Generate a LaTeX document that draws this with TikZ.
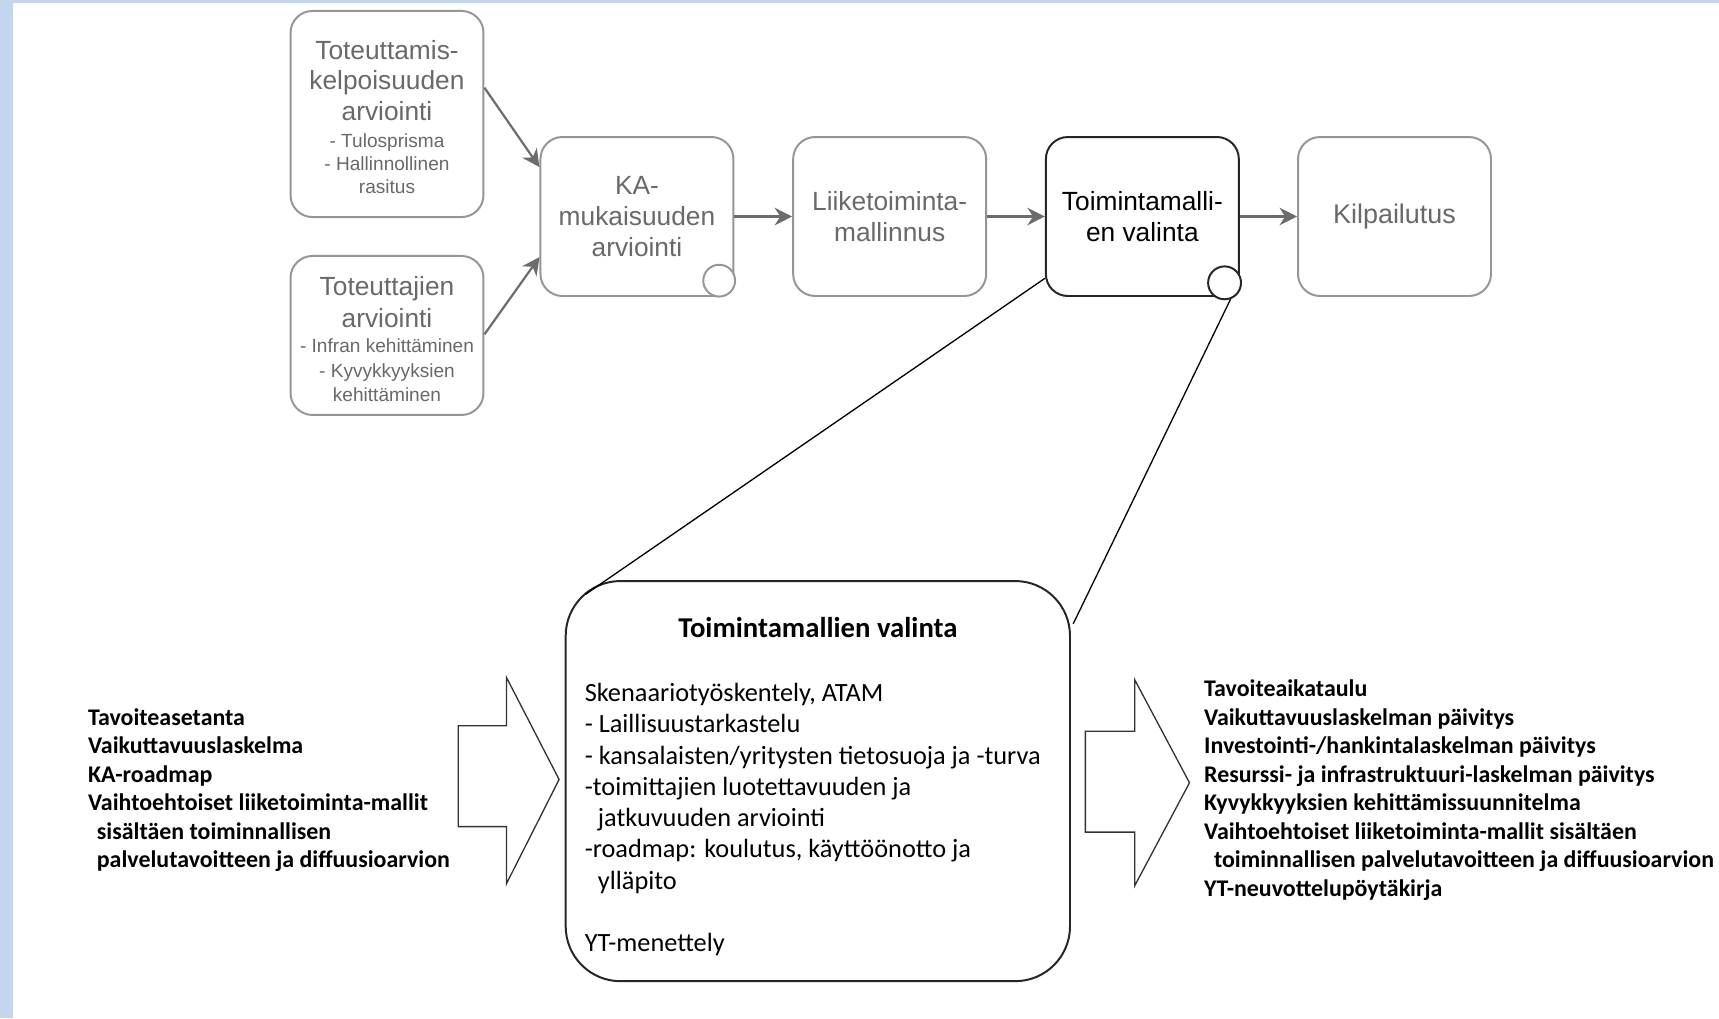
\documentclass[tikz,border=0pt]{standalone}
\usepackage{fontspec}
\setmainfont{Carlito}
\newfontfamily\arialfont{Liberation Sans}
\usetikzlibrary{positioning,arrows.meta,calc}
\definecolor{boxgray}{RGB}{150,150,150}
\definecolor{txtgray}{RGB}{105,105,105}
\definecolor{edgeblue}{RGB}{196,214,238}
\newcommand{\subtxt}{\fontsize{8.7}{10.5}\selectfont}

\begin{document}
\begin{tikzpicture}[x=0.5pt, y=-0.5pt,
  stage/.style={draw=boxgray, line width=0.9pt, rounded corners=10pt, minimum width=88pt, minimum height=72.5pt, inner sep=1pt, align=center, text=txtgray, font=\arialfont\fontsize{12}{14}\selectfont},
  active/.style={stage, draw=black!85, text=black},
  roll/.style={circle, draw=boxgray, line width=0.9pt, fill=white, inner sep=0pt, minimum size=14.5pt},
  flow/.style={draw=gray!85!black, line width=1pt, -{Stealth[length=8pt, width=8pt]}},
  zoomline/.style={draw=black, line width=0.6pt},
  fatarrow/.style={draw=black!80, line width=0.6pt, fill=white},
  bodytext/.style={align=left, inner sep=0pt, anchor=north west, font=\fontsize{12}{14.25}\selectfont},
  listtext/.style={align=left, inner sep=0pt, anchor=north west, font=\bfseries\fontsize{10.9}{13}\selectfont}]
\useasboundingbox (0,0) rectangle (1568,929);
\fill[white] (0,0) rectangle (1568,929);
% Slide edge
\fill[edgeblue] (0,0) rectangle (12,929);
\fill[edgeblue] (0,0) rectangle (1568,3);

% Preceding assessments
\node[stage, minimum height=94pt] (feas) at (353,104) {\rule{0pt}{11.5pt}Toteuttamis-\\kelpoisuuden\\arviointi\\[-1.5pt]\subtxt - Tulosprisma\\[-3.5pt] \subtxt - Hallinnollinen\\[-3.5pt] \subtxt rasitus};
\node[stage] (impl) at (353,306) {\rule{0pt}{12pt}Toteuttajien\\[0.5pt]arviointi\\[-2.5pt]\subtxt - Infran kehittäminen\\[-3pt] \subtxt - Kyvykkyyksien\\[-3pt] \subtxt kehittäminen};

% Main process chain
\node[stage] (ka) at (581,197.5) {KA-\\mukaisuuden\\arviointi};
\node[stage] (liike) at (811.5,197.5) {Liiketoiminta-\\mallinnus};
\node[active] (valinta) at (1042,197.5) {Toimintamalli-\\en valinta};
\node[stage, font=\arialfont\fontsize{12.3}{14}\selectfont] (kilp) at (1272,197.5) {Kilpailutus};

% Scroll marks
\node[roll] (kaRoll) at (656,256) {};
\node[roll, draw=black!85, minimum size=15pt] (valRoll) at (1117,258) {};

% Connectors
\draw[flow] ($(feas.east)+(0,-24)$) -- ($(ka.west)+(0,-45)$);
\draw[flow] ($(impl.east)+(0,-1)$) -- ($(ka.west)+(0,37)$);
\draw[flow] (ka) -- (liike);
\draw[flow] (liike) -- (valinta);
\draw[flow] (valinta) -- (kilp);

% Detail of the selected phase
\node[draw=black!85, line width=0.9pt, rounded corners=25pt, minimum width=230pt, minimum height=182.5pt] (detail) at (746,712.5) {};
\node[font=\bfseries\fontsize{13.1}{15}\selectfont] (detailTitle) at (746,572) {Toimintamallien valinta};
\node[bodytext] (detailBody) at (533,623) {Skenaariotyöskentely, ATAM\\
- Laillisuustarkastelu\\
- kansalaisten/yritysten tietosuoja ja -turva\\
-toimittajien luotettavuuden ja\\
\hspace*{6pt}jatkuvuuden arviointi\\
-roadmap: koulutus, käyttöönotto ja\\
\hspace*{6pt}ylläpito\\[14.25pt]
YT-menettely};

% Zoom lines
\draw[zoomline] ($(valinta.south west)+(0,-17)$) -- ($(detail.north west)+(19,13)$);
\draw[zoomline] (valRoll.-70) -- ($(detail.north east)+(2,40)$);

% Inputs
\node[listtext] (inputs) at (80,646) {Tavoiteasetanta\\
Vaikuttavuuslaskelma\\
KA-roadmap\\
Vaihtoehtoiset liiketoiminta-mallit\\
\hspace*{4pt}sisältäen toiminnallisen\\
\hspace*{4pt}palvelutavoitteen ja diffuusioarvion};
\draw[fatarrow] (418,662) -- (462,662) -- (462,618) -- (510,711) -- (462,806) -- (462,754) -- (418,754) -- cycle;

% Outputs
\draw[fatarrow] (990,667) -- (1035,667) -- (1035,620) -- (1085,714) -- (1035,808) -- (1035,759) -- (990,759) -- cycle;
\node[listtext] (outputs) at (1098,620) {Tavoiteaikataulu\\
Vaikuttavuuslaskelman päivitys\\
Investointi-/hankintalaskelman päivitys\\
Resurssi- ja infrastruktuuri-laskelman päivitys\\
Kyvykkyyksien kehittämissuunnitelma\\
Vaihtoehtoiset liiketoiminta-mallit sisältäen\\
\hspace*{4.5pt}toiminnallisen palvelutavoitteen ja diffuusioarvion\\
YT-neuvottelupöytäkirja};
\end{tikzpicture}
\end{document}
